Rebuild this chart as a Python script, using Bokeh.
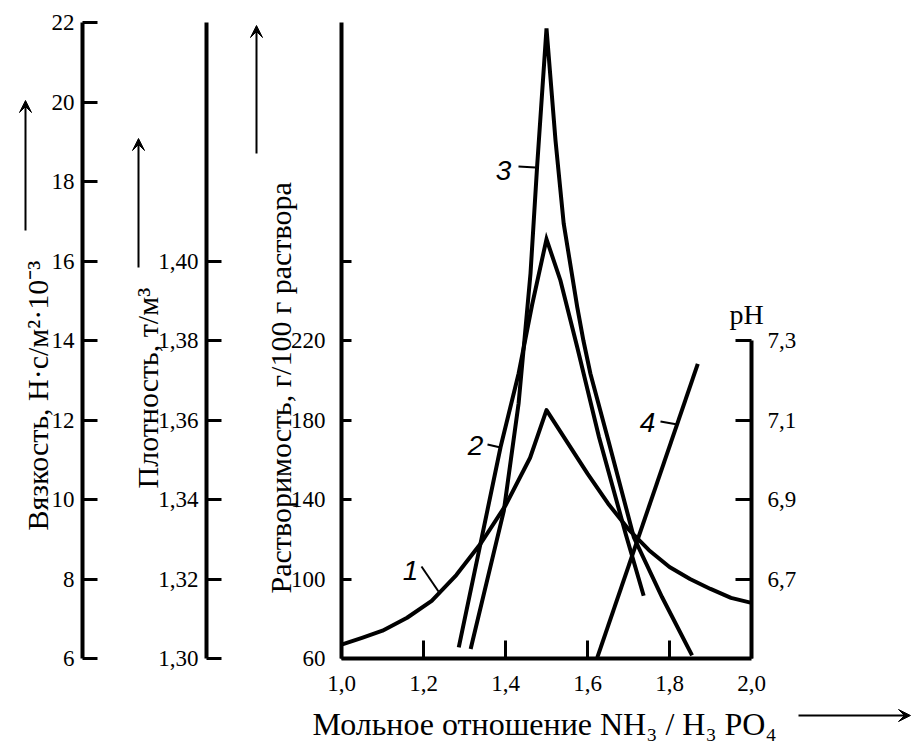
import numpy as np
from bokeh.plotting import figure
from bokeh.models import Range1d, LinearAxis, FixedTicker, Arrow, VeeHead, CustomJSTickFormatter
from bokeh.core.properties import value
from bokeh.embed import file_html
from bokeh.resources import INLINE

# ---------------- data ----------------
x_ticks = [1.0, 1.2, 1.4, 1.6, 1.8, 2.0]
x_tick_labels = ["1,0", "1,2", "1,4", "1,6", "1,8", "2,0"]

visc_ticks = [6, 8, 10, 12, 14, 16, 18, 20, 22]
visc_tick_labels = ["6", "8", "10", "12", "14", "16", "18", "20", "22"]

dens_ticks = [1.30, 1.32, 1.34, 1.36, 1.38, 1.40]
dens_tick_labels = ["1,30", "1,32", "1,34", "1,36", "1,38", "1,40"]

sol_ticks = [60, 100, 140, 180, 220, 260]
sol_tick_labels = ["60", "100", "140", "180", "220", ""]

ph_ticks = [6.7, 6.9, 7.1, 7.3]
ph_tick_labels = ["6,7", "6,9", "7,1", "7,3"]

# curve 1 (solubility, g/100 g)
c1_x = [1.00, 1.05, 1.10, 1.16, 1.22, 1.28, 1.34, 1.40, 1.46, 1.50,
        1.55, 1.60, 1.65, 1.70, 1.75, 1.80, 1.85, 1.90, 1.95, 2.00]
c1_y = [67, 70.4, 74, 80.5, 89, 102, 118, 137, 161, 185,
        169, 153, 138, 125, 114.5, 106, 100, 95, 90.5, 88]

# curve 2 (density, t/m3)
c2_x = [1.286, 1.339, 1.388, 1.432, 1.465, 1.50, 1.534, 1.575, 1.628, 1.693, 1.737]
c2_y = [1.3028, 1.3289, 1.3532, 1.3717, 1.3890, 1.4055, 1.3951, 1.3783, 1.3557, 1.3314, 1.3158]

# curve 3 (viscosity)
c3_x = [1.315, 1.396, 1.432, 1.449, 1.461, 1.477, 1.50,
        1.522, 1.542, 1.575, 1.590, 1.607, 1.651, 1.713, 1.782, 1.855]
c3_y = [6.24, 9.72, 12.42, 14.33, 15.69, 18.36, 21.85,
        19.03, 16.94, 14.84, 14.0, 13.17, 11.48, 9.05, 7.54, 6.08]

# curve 4 (pH)
c4_x = [1.624, 1.869]
c4_y = [6.503, 7.241]

curve_labels = ["1", "2", "3", "4"]

# ---------------- layout (page pixels) ----------------
W, H = 912, 742
M = 0
X0_PX, X1_PX = 341, 751      # x = 1.0 / 2.0
YB_PX, YT_PX = 658, 22       # bottom / top of the vertical scales

def lin(p0, p1, v0, v1, p):
    return v0 + (p - p0) * (v1 - v0) / (p1 - p0)

def xr():
    return Range1d(lin(X0_PX, X1_PX, 1.0, 2.0, M), lin(X0_PX, X1_PX, 1.0, 2.0, M + W))

def yr(vb, vt):
    return Range1d(lin(YB_PX, YT_PX, vb, vt, M + H), lin(YB_PX, YT_PX, vb, vt, M))

def X(px):
    return lin(X0_PX, X1_PX, 1.0, 2.0, px)

def S(py):  # main (solubility) scale
    return lin(YB_PX, YT_PX, 60, 380, py)

p = figure(width=W, height=H, x_range=xr(), y_range=yr(60, 380),
           x_axis_location=None, y_axis_location=None,
           output_backend="svg", toolbar_location=None, min_border=0,
           outline_line_color=None, background_fill_color="white",
           border_fill_color="white")
p.grid.visible = False
p.extra_y_ranges = {"visc": yr(6, 22), "dens": yr(1.30, 1.46), "ph": yr(6.5, 8.1)}

SERIF = "Liberation Serif"

def fmt(tv, tl):
    return CustomJSTickFormatter(args=dict(tv=tv, tl=tl), code="""
        for (let i = 0; i < tv.length; i++) {
            if (Math.abs(tv[i] - tick) < 1e-6) return tl[i];
        }
        return '';
    """)

def style(ax, tick_in, size, standoff):
    ax.axis_line_width = 4
    ax.axis_line_color = "black"
    ax.major_tick_in = tick_in
    ax.major_tick_out = 0
    ax.major_tick_line_width = 3
    ax.major_tick_line_color = "black"
    ax.minor_tick_line_color = None
    ax.major_label_text_font = SERIF
    ax.major_label_text_font_size = f"{size}px"
    ax.major_label_text_color = "black"
    ax.major_label_standoff = standoff

visc_ax = LinearAxis(y_range_name="visc", fixed_location=X(82), bounds=(6, 22),
                     ticker=FixedTicker(ticks=visc_ticks),
                     formatter=fmt(visc_ticks, visc_tick_labels))
style(visc_ax, 15, 23, 8)
p.add_layout(visc_ax, "left")

dens_ax = LinearAxis(y_range_name="dens", fixed_location=X(206), bounds=(1.30, 1.46),
                     ticker=FixedTicker(ticks=dens_ticks),
                     formatter=fmt(dens_ticks, dens_tick_labels))
style(dens_ax, 15, 23, 8)
p.add_layout(dens_ax, "left")

sol_ax = LinearAxis(fixed_location=1.0, bounds=(60, 380),
                    ticker=FixedTicker(ticks=sol_ticks),
                    formatter=fmt(sol_ticks, sol_tick_labels))
style(sol_ax, 10, 23, 16)
p.add_layout(sol_ax, "left")

ph_ax = LinearAxis(y_range_name="ph", fixed_location=2.0, bounds=(6.5, 7.3),
                   ticker=FixedTicker(ticks=ph_ticks),
                   formatter=fmt(ph_ticks, ph_tick_labels))
style(ph_ax, 16, 23, 16)
p.add_layout(ph_ax, "right")

x_ax = LinearAxis(fixed_location=60, bounds=(1.0, 2.0),
                  ticker=FixedTicker(ticks=x_ticks),
                  formatter=fmt(x_ticks, x_tick_labels))
style(x_ax, 18, 23, 17)
p.add_layout(x_ax, "below")

# ---------------- curves ----------------
LW = 4
p.line(c1_x, c1_y, line_width=LW, line_color="black", line_join="round")
p.line(c2_x, c2_y, y_range_name="dens", line_width=LW, line_color="black", line_join="miter")
p.line(c3_x, c3_y, y_range_name="visc", line_width=LW, line_color="black", line_join="miter")
p.line(c4_x, c4_y, y_range_name="ph", line_width=LW, line_color="black")

# curve numbers with leaders (page-pixel placement)
lab_px = [(410, 570), (475, 445), (503, 170), (647, 422)]
lead_px = [((421, 566), (438, 591)), ((487, 444), (500, 447)),
           ((518, 166), (535, 167)), ((660, 421), (677, 424))]
p.text([X(a) for a, b in lab_px], [S(b) for a, b in lab_px], text=curve_labels,
       text_font=value("Liberation Sans"), text_font_style="italic",
       text_font_size="28px", text_align="center", text_baseline="middle",
       text_color="black")
p.segment([X(a[0]) for a, b in lead_px], [S(a[1]) for a, b in lead_px],
          [X(b[0]) for a, b in lead_px], [S(b[1]) for a, b in lead_px],
          line_width=2, line_color="black")

# ---------------- axis titles ----------------
vt = [("Вязкость, Н·с/м²·10⁻³", 37, 530, 30),
      ("Плотность, т/м³", 147, 488, 30),
      ("Растворимость, г/100 г раствора", 280, 593, 30)]
for txt, bx, by, fs in vt:
    p.text([X(bx)], [S(by)], text=[txt], angle=np.pi / 2,
           text_font=value(SERIF), text_font_size=f"{fs}px",
           text_align="left", text_baseline="alphabetic", text_color="black")

p.text([X(312)], [S(723)], text=["Мольное отношение NH₃ / H₃ PO₄"],
       text_font=value(SERIF), text_font_size="32px",
       text_align="left", text_baseline="alphabetic", text_color="black")
p.text([X(746)], [S(314)], text=["pH"],
       text_font=value(SERIF), text_font_size="28px",
       text_align="center", text_baseline="alphabetic", text_color="black")

# arrows
arrows = [((25, 230), (25, 100)), ((138, 267), (138, 138)),
          ((256, 153), (256, 25)), ((798, 715), (910, 715))]
for (xs, ys), (xe, ye) in arrows:
    p.add_layout(Arrow(end=VeeHead(size=12, line_color="black", fill_color="black"),
                       x_start=X(xs), y_start=S(ys), x_end=X(xe), y_end=S(ye),
                       line_width=2, line_color="black"))

open("out.html", "w").write(file_html(p, INLINE))
